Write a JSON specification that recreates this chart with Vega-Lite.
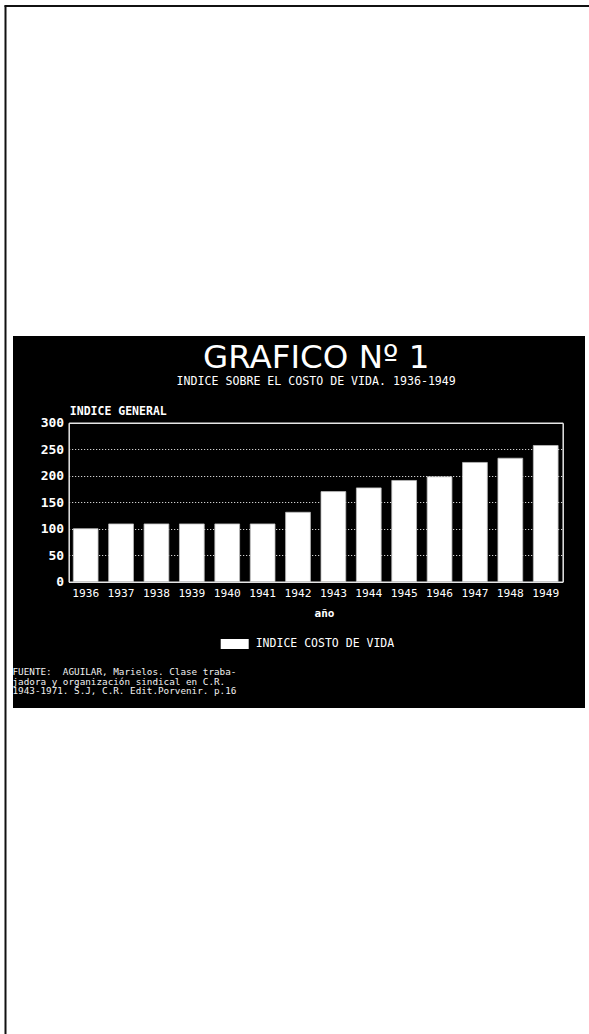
{
  "$schema": "https://vega.github.io/schema/vega-lite/v6.json",
  "width": 572,
  "height": 372,
  "autosize": {"type": "none"},
  "padding": {"left": 13, "top": 336, "right": 4, "bottom": 326},
  "background": "white",
  "config": {"view": {"fill": "black", "stroke": null}},
  "data": {
    "values": [
      {"anio": "1936", "indice": 100},
      {"anio": "1937", "indice": 109},
      {"anio": "1938", "indice": 109},
      {"anio": "1939", "indice": 109},
      {"anio": "1940", "indice": 109},
      {"anio": "1941", "indice": 109},
      {"anio": "1942", "indice": 131},
      {"anio": "1943", "indice": 170},
      {"anio": "1944", "indice": 177},
      {"anio": "1945", "indice": 191},
      {"anio": "1946", "indice": 198},
      {"anio": "1947", "indice": 225},
      {"anio": "1948", "indice": 233},
      {"anio": "1949", "indice": 257}
    ]
  },
  "layer": [
    {
      "layer": [
        {
          "mark": {"type": "bar", "stroke": "#bbbbbb", "strokeWidth": 0.8},
          "encoding": {
            "x": {
              "field": "anio", "type": "nominal", "sort": null,
              "scale": {"range": [55.7, 549.7], "paddingInner": 0.3, "paddingOuter": 0.13},
              "axis": {
                "orient": "bottom", "offset": -126.3,
                "domain": true, "domainColor": "#e6e6e6", "domainWidth": 1.5,
                "ticks": false, "grid": false, "labelAngle": 0,
                "labelColor": "white", "labelFont": "DejaVu Sans Mono", "labelFontSize": 11.2, "labelPadding": 6,
                "title": "año", "titleX": 311, "titleY": 31.6, "titleAlign": "center", "titleBaseline": "middle",
                "titleColor": "white", "titleFont": "DejaVu Sans Mono", "titleFontSize": 11, "titleFontWeight": "bold"
              }
            },
            "y": {
              "field": "indice", "type": "quantitative",
              "scale": {"domain": [0, 300], "range": [245.7, 86.7], "nice": false},
              "axis": {
                "orient": "left", "offset": -55.7,
                "values": [0, 50, 100, 150, 200, 250, 300],
                "domain": true, "domainColor": "#e6e6e6", "domainWidth": 1.5,
                "ticks": false, "grid": true, "gridColor": "white", "gridDash": [1, 2], "gridWidth": 1,
                "labelColor": "white", "labelFont": "DejaVu Sans Mono", "labelFontSize": 13, "labelFontWeight": "bold",
                "labelPadding": 5, "labelFlush": false, "labelOverlap": false,
                "title": "INDICE GENERAL", "titleAngle": 0, "titleAlign": "left", "titleBaseline": "middle",
                "titleX": 0.6, "titleY": 75.7,
                "titleColor": "white", "titleFont": "DejaVu Sans Mono", "titleFontSize": 11.5, "titleFontWeight": "bold"
              }
            },
            "color": {
              "datum": "INDICE COSTO DE VIDA", "type": "nominal",
              "scale": {"range": ["#ffffff"]},
              "legend": {
                "orient": "none", "legendX": 207.7, "legendY": 294, "title": null,
                "symbolType": "M-1,-0.357H1V0.357H-1Z", "symbolSize": 784, "symbolStrokeWidth": 0, "symbolOpacity": 1,
                "labelColor": "white", "labelFont": "DejaVu Sans Mono", "labelFontSize": 11.5, "labelOffset": 7,
                "padding": 0
              }
            }
          }
        },
        {
          "mark": {"type": "bar", "opacity": 0},
          "encoding": {
            "x": {
              "field": "anio", "type": "nominal", "sort": null,
              "axis": {
                "orient": "top", "offset": -86.7,
                "domain": true, "domainColor": "#e6e6e6", "domainWidth": 1.5,
                "labels": false, "ticks": false, "grid": false,
                "title": "GRAFICO Nº 1", "titleX": 302.7, "titleY": -55.4, "titleAlign": "center", "titleBaseline": "alphabetic",
                "titleColor": "white", "titleFont": "DejaVu Sans", "titleFontSize": 32.5, "titleFontWeight": "normal", "titleLimit": 1000
              }
            },
            "y": {
              "field": "indice", "type": "quantitative",
              "axis": {
                "orient": "right", "offset": -22.3,
                "domain": true, "domainColor": "#e6e6e6", "domainWidth": 1.5,
                "labels": false, "ticks": false, "grid": false,
                "title": "INDICE SOBRE EL COSTO DE VIDA. 1936-1949", "titleAngle": 0,
                "titleX": -247, "titleY": 45.7, "titleAlign": "center", "titleBaseline": "middle",
                "titleColor": "white", "titleFont": "DejaVu Sans Mono", "titleFontSize": 11.6, "titleFontWeight": "normal", "titleLimit": 1000
              }
            }
          }
        }
      ],
      "resolve": {"axis": {"x": "independent", "y": "independent"}}
    },
    {
      "mark": {"type": "point", "opacity": 0},
      "encoding": {
        "x": {
          "field": "indice", "type": "quantitative",
          "scale": {"domain": [0, 300], "range": [-9, 576], "nice": false, "zero": false},
          "axis": {
            "orient": "top", "offset": 330.5,
            "domain": true, "domainColor": "#111111", "domainWidth": 2,
            "labels": false, "ticks": false, "grid": false,
            "title": ["FUENTE: \u00a0AGUILAR, Marielos. Clase traba-", "jadora y organización sindical en C.R.", "1943-1971. S.J, C.R. Edit.Porvenir. p.16"],
            "titleX": -1, "titleY": 662.3, "titleAlign": "left", "titleBaseline": "top", "titleAngle": 0,
            "titleColor": "#f0f0f0", "titleFont": "DejaVu Sans Mono", "titleFontSize": 9.3, "titleFontWeight": "normal",
            "titleLineHeight": 9.4, "titleLimit": 1000
          }
        },
        "y": {
          "field": "indice", "type": "quantitative",
          "scale": {"domain": [0, 300], "range": [698, -331], "nice": false},
          "axis": {
            "orient": "left", "offset": 8,
            "domain": true, "domainColor": "#111111", "domainWidth": 2,
            "labels": false, "ticks": false, "grid": false, "title": null
          }
        }
      }
    }
  ],
  "resolve": {
    "scale": {"x": "independent", "y": "independent"},
    "axis": {"x": "independent", "y": "independent"}
  }
}
